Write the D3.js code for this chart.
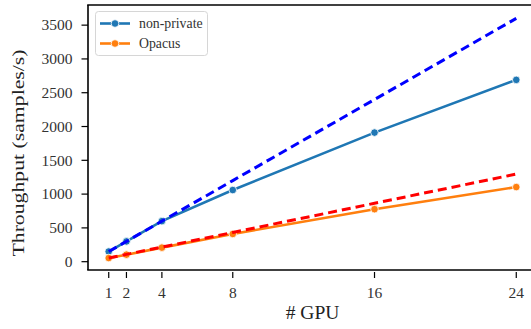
<!DOCTYPE html>
<html>
<head>
<meta charset="utf-8">
<script src="https://cdn.jsdelivr.net/npm/d3@7"></script>
<style>
  body { margin: 0; background: #fff; }
</style>
</head>
<body>
<div id="chart"></div>
<script>
// data
const gpus = [1, 2, 4, 8, 16, 24];
const nonPrivate = [150, 300, 600, 1060, 1910, 2690];
const opacus = [54, 104, 208, 410, 777, 1104];
const xTicks = [1, 2, 4, 8, 16, 24];
const yTicks = [0, 500, 1000, 1500, 2000, 2500, 3000, 3500];

const width = 531, height = 329;
const margin = { top: 5, right: -6, bottom: 59, left: 88 };
const serif = "'Liberation Serif', 'Times New Roman', Times, serif";

const svg = d3.select('#chart').append('svg')
  .attr('width', width)
  .attr('height', height)
  .attr('font-family', serif)
  .style('display', 'block');

const x = d3.scaleLinear()
  .domain([-0.17, 25.17])
  .range([margin.left, width - margin.right]);

const y = d3.scaleLinear()
  .domain([-123, 3798])
  .range([height - margin.bottom, margin.top]);

// ideal linear scaling from the 1-GPU value
const idealNP = gpus.map(g => nonPrivate[0] * g);
const idealOp = gpus.map(g => opacus[0] * g);

const line = d3.line()
  .x(d => x(d[0]))
  .y(d => y(d[1]));

const series = [
  { name: 'non-private', vals: nonPrivate, color: '#1f77b4' },
  { name: 'Opacus', vals: opacus, color: '#ff7f0e' },
];
const ideal = [
  { vals: idealNP, color: 'blue' },
  { vals: idealOp, color: 'red' },
];

const plot = svg.append('g');

series.forEach(s => {
  const pts = gpus.map((g, i) => [g, s.vals[i]]);
  plot.append('path')
    .attr('d', line(pts))
    .attr('fill', 'none')
    .attr('stroke', s.color)
    .attr('stroke-width', 2.6);
  plot.selectAll(null).data(pts).enter().append('circle')
    .attr('cx', d => x(d[0]))
    .attr('cy', d => y(d[1]))
    .attr('r', 3.8)
    .attr('fill', s.color)
    .attr('stroke', '#fff')
    .attr('stroke-width', 0.8);
});

ideal.forEach(s => {
  const pts = gpus.map((g, i) => [g, s.vals[i]]);
  plot.append('path')
    .attr('d', line(pts))
    .attr('fill', 'none')
    .attr('stroke', s.color)
    .attr('stroke-width', 3)
    .attr('stroke-dasharray', '9,5');
});

// spines
const x0 = margin.left, x1 = width - margin.right;
const y0 = height - margin.bottom, y1 = margin.top;
svg.append('line').attr('x1', x0).attr('x2', x0).attr('y1', y1).attr('y2', y0)
  .attr('stroke', '#000').attr('stroke-width', 1.6);
svg.append('line').attr('x1', x0 - 0.8).attr('x2', x1).attr('y1', y0).attr('y2', y0)
  .attr('stroke', '#000').attr('stroke-width', 1.6);
svg.append('line').attr('x1', x0 - 0.8).attr('x2', x1).attr('y1', y1).attr('y2', y1)
  .attr('stroke', '#000').attr('stroke-width', 1.6);

// y axis
const yAxis = svg.append('g');
yTicks.forEach(t => {
  yAxis.append('line')
    .attr('x1', x0 - 6.5).attr('x2', x0)
    .attr('y1', y(t)).attr('y2', y(t))
    .attr('stroke', '#000').attr('stroke-width', 1.2);
  yAxis.append('text')
    .attr('x', x0 - 15.5).attr('y', y(t))
    .attr('dy', '0.34em')
    .attr('text-anchor', 'end')
    .attr('font-size', 15.5)
    .attr('fill', '#333')
    .text(t);
});

// x axis (ticks detached below the spine)
const xAxis = svg.append('g');
xTicks.forEach(t => {
  xAxis.append('line')
    .attr('x1', x(t)).attr('x2', x(t))
    .attr('y1', y0 + 2).attr('y2', y0 + 8)
    .attr('stroke', '#000').attr('stroke-width', 1.2);
  xAxis.append('text')
    .attr('x', x(t)).attr('y', y0 + 28)
    .attr('text-anchor', 'middle')
    .attr('font-size', 15.5)
    .attr('fill', '#333')
    .text(t);
});

svg.append('text')
  .attr('x', 312.5)
  .attr('y', 319)
  .attr('text-anchor', 'middle')
  .attr('font-size', 19.5)
  .attr('fill', '#222')
  .text('# GPU');

svg.append('text')
  .attr('transform', 'translate(24,153) rotate(-90)')
  .attr('text-anchor', 'middle')
  .attr('font-size', 17.5)
  .attr('textLength', 207)
  .attr('lengthAdjust', 'spacingAndGlyphs')
  .attr('fill', '#222')
  .text('Throughput (samples/s)');

// legend
const lg = svg.append('g');
lg.append('rect')
  .attr('x', 95.5).attr('y', 11.5)
  .attr('width', 112).attr('height', 44)
  .attr('rx', 3)
  .attr('fill', 'rgba(255,255,255,0.85)')
  .attr('stroke', '#d6d6d6')
  .attr('stroke-width', 1);
series.forEach((s, i) => {
  const ly = 23.5 + i * 20;
  lg.append('line')
    .attr('x1', 100).attr('x2', 130)
    .attr('y1', ly).attr('y2', ly)
    .attr('stroke', s.color).attr('stroke-width', 2.6);
  lg.append('circle')
    .attr('cx', 115).attr('cy', ly).attr('r', 3.8)
    .attr('fill', s.color)
    .attr('stroke', '#fff').attr('stroke-width', 0.8);
  lg.append('text')
    .attr('x', 139).attr('y', ly)
    .attr('dy', '0.34em')
    .attr('font-size', 13.8)
    .attr('fill', '#333')
    .text(s.name);
});
</script>
</body>
</html>
